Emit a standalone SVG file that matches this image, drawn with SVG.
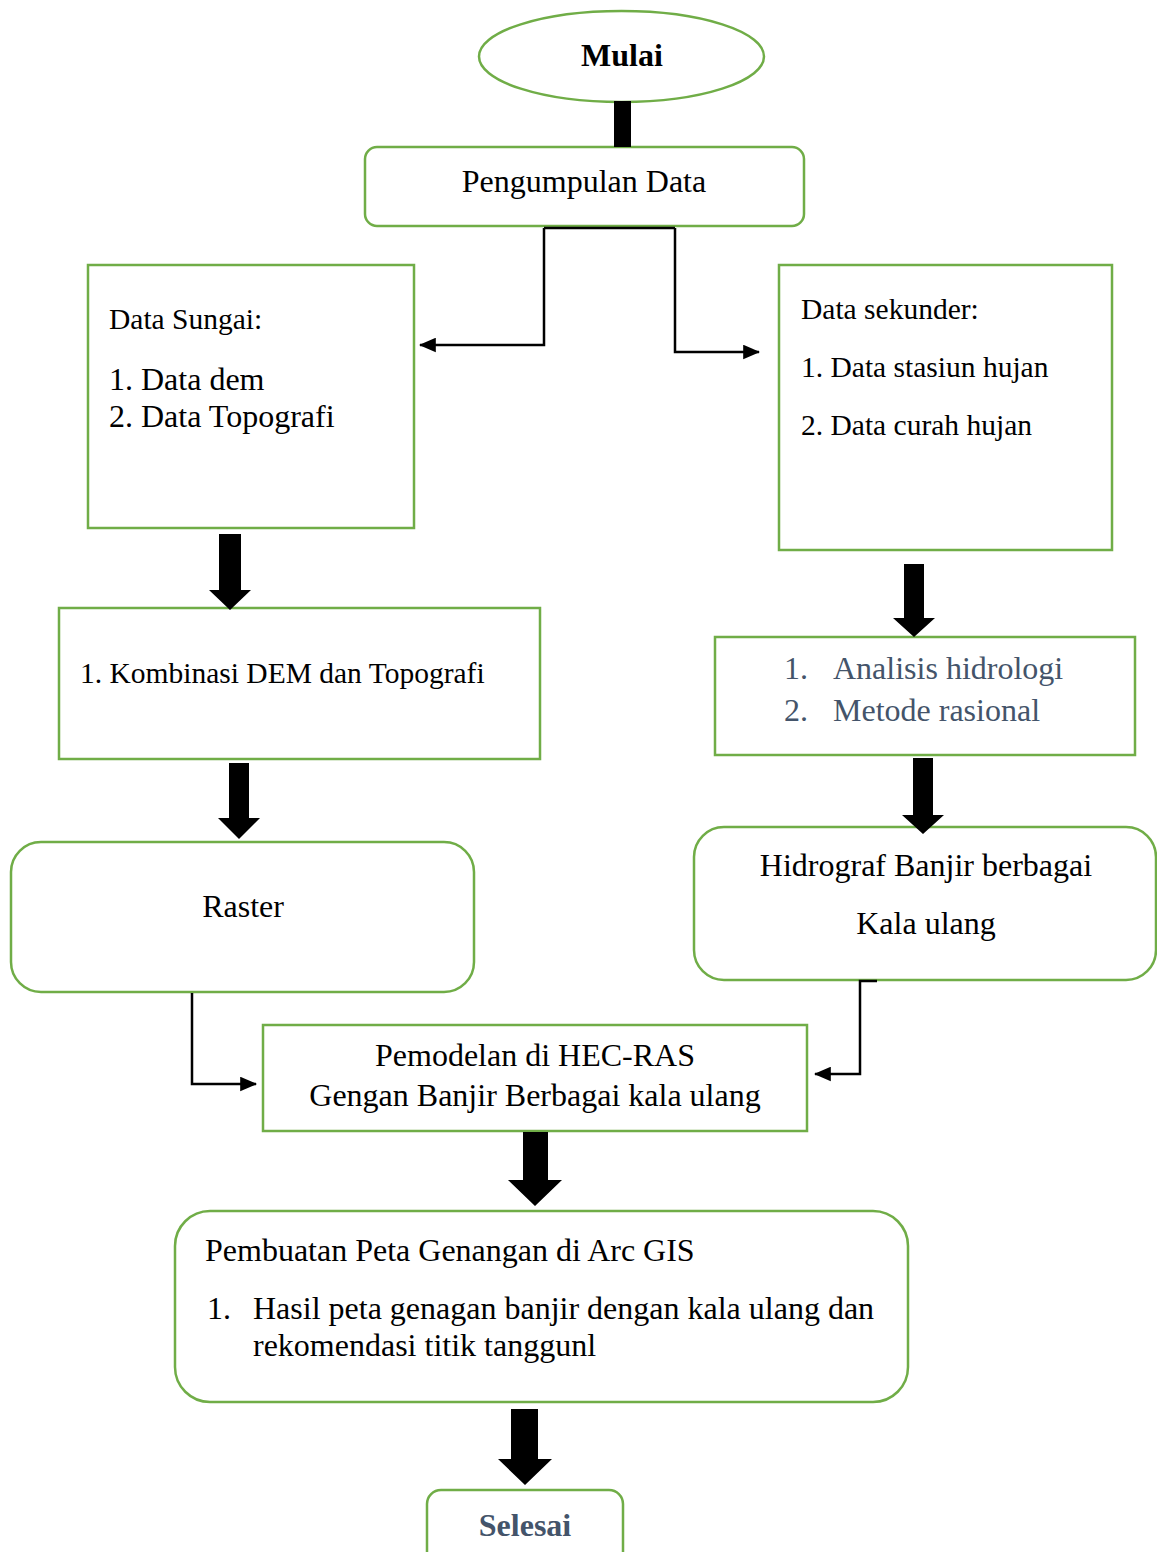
<svg xmlns="http://www.w3.org/2000/svg" width="1157" height="1552" viewBox="0 0 1157 1552">
<defs>
<style>
.box{fill:#fff;stroke:#70AD47;stroke-width:2.5}
.t{font-family:"Liberation Serif","Times New Roman",serif;font-size:32px;fill:#000}
.s{font-size:29.5px}
.c{text-anchor:middle}
.g{fill:#44546A}
.b{font-weight:bold}
.ln{fill:none;stroke:#000;stroke-width:2.5}
.big{fill:#000}
</style>
<marker id="a2" viewBox="0 0 14 12" refX="13" refY="6" markerWidth="17" markerHeight="15" orient="auto" markerUnits="userSpaceOnUse">
<path d="M0,0 L14,6 L0,12 z" fill="#000"/>
</marker>
</defs>
<rect width="1157" height="1552" fill="#fff"/>

<g id="mulai">
<ellipse class="box" cx="621.5" cy="56.5" rx="142.5" ry="45.5"/>
<text class="t b c" x="622" y="66">Mulai</text>
</g>

<g id="pengumpulan">
<rect class="box" x="365" y="147" width="439" height="79" rx="12"/>
<text class="t c" x="584" y="192">Pengumpulan Data</text>
</g>

<g id="data-sungai">
<rect class="box" x="88" y="265" width="326" height="263"/>
<text class="t s" x="109" y="329">Data Sungai:</text>
<text class="t" x="109" y="390">1. Data dem</text>
<text class="t" x="109" y="427">2. Data Topografi</text>
</g>

<g id="data-sekunder">
<rect class="box" x="779" y="265" width="333" height="285"/>
<text class="t s" x="801" y="319">Data sekunder:</text>
<text class="t s" x="801" y="377">1. Data stasiun hujan</text>
<text class="t s" x="801" y="435">2. Data curah hujan</text>
</g>

<g id="kombinasi">
<rect class="box" x="59" y="608" width="481" height="151"/>
<text class="t s" x="80" y="683">1. Kombinasi DEM dan Topografi</text>
</g>

<g id="analisis">
<rect class="box" x="715" y="637" width="420" height="118"/>
<text class="t g" x="784" y="679">1.</text>
<text class="t g" x="833" y="679">Analisis hidrologi</text>
<text class="t g" x="784" y="721">2.</text>
<text class="t g" x="833" y="721">Metode rasional</text>
</g>

<g id="raster">
<rect class="box" x="11" y="842" width="463" height="150" rx="30"/>
<text class="t c" x="243" y="917">Raster</text>
</g>

<g id="hidrograf">
<rect class="box" x="694" y="827" width="462" height="153" rx="30"/>
<text class="t c" x="926" y="876">Hidrograf Banjir berbagai</text>
<text class="t c" x="926" y="934">Kala ulang</text>
</g>

<g id="hecras">
<rect class="box" x="263" y="1025" width="544" height="106"/>
<text class="t c" x="535" y="1066">Pemodelan di HEC-RAS</text>
<text class="t c" x="535" y="1106">Gengan Banjir Berbagai kala ulang</text>
</g>

<g id="pembuatan">
<rect class="box" x="175" y="1211" width="733" height="191" rx="35"/>
<text class="t" x="205" y="1261">Pembuatan Peta Genangan di Arc GIS</text>
<text class="t" x="207" y="1319">1.</text>
<text class="t" x="253" y="1319">Hasil peta genagan banjir dengan kala ulang dan</text>
<text class="t" x="253" y="1356">rekomendasi titik tanggunl</text>
</g>

<g id="selesai">
<rect class="box" x="427" y="1490" width="196" height="80" rx="14"/>
<text class="t b c g" x="525" y="1536">Selesai</text>
</g>

<g id="connectors">
<rect class="big" x="614" y="101" width="17" height="46"/>
<path class="ln" d="M544,228 H675"/>
<path class="ln" d="M544,228 V345 H420" marker-end="url(#a2)"/>
<path class="ln" d="M675,228 V352 H759" marker-end="url(#a2)"/>
<path class="big" d="M219,534 H241 V590 H251 L230,610 L209,590 H219 Z"/>
<path class="big" d="M229,763 H249 V818 H260 L239,839 L218,818 H229 Z"/>
<path class="big" d="M904,564 H924 V618 H935 L914,637 L893,618 H904 Z"/>
<path class="big" d="M913,758 H933 V815 H944 L923,834 L902,815 H913 Z"/>
<path class="ln" d="M192,993 V1084 H256" marker-end="url(#a2)"/>
<path class="ln" d="M877,981 H860 V1074 H815" marker-end="url(#a2)"/>
<path class="big" d="M523,1132 H548 V1180 H562 L535,1206 L508,1180 H523 Z"/>
<path class="big" d="M511,1409 H538 V1459 H552 L525,1485 L498,1459 H511 Z"/>
</g>
</svg>
